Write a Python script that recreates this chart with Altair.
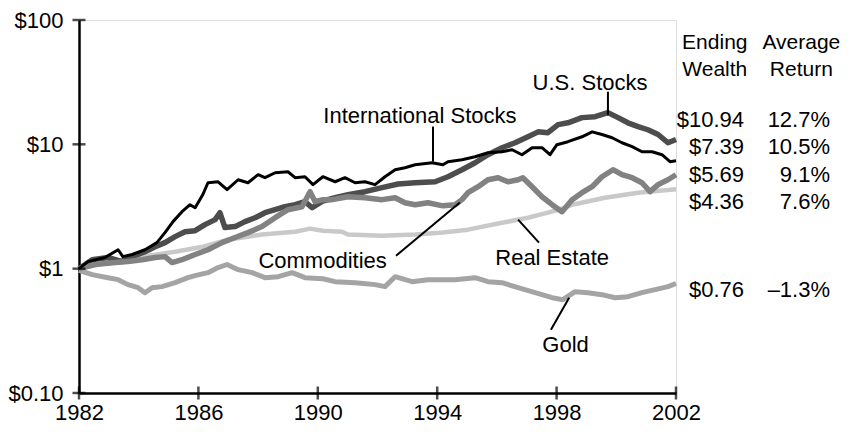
import altair as alt
import pandas as pd

# ---------------- data (growth of $1, log scale) ----------------
intl_years = [1982.0, 1982.30, 1982.87, 1983.31, 1983.47, 1983.78, 1984.21, 1984.61, 1984.88, 1985.15,
              1985.45, 1985.72, 1985.89, 1986.15, 1986.32, 1986.66, 1986.96, 1987.33, 1987.66, 1988.00,
              1988.23, 1988.57, 1989.00, 1989.24, 1989.57, 1989.84, 1990.17, 1990.58, 1990.91, 1991.25,
              1991.58, 1991.92, 1992.25, 1992.59, 1992.92, 1993.26, 1993.83, 1994.19, 1994.36, 1994.83,
              1995.27, 1995.70, 1996.17, 1996.51, 1996.84, 1997.18, 1997.51, 1997.78, 1998.01, 1998.38,
              1998.85, 1999.19, 1999.52, 1999.86, 2000.19, 2000.53, 2000.86, 2001.20, 2001.53, 2001.80, 2002.0]
intl_values = [1.00, 1.14, 1.23, 1.42, 1.25, 1.30, 1.42, 1.62, 1.95, 2.39,
               2.87, 3.27, 3.09, 3.95, 4.91, 5.00, 4.32, 5.19, 4.91, 5.70,
               5.39, 5.91, 6.02, 5.39, 5.49, 4.74, 5.49, 5.00, 5.39, 4.91,
               5.00, 4.74, 5.49, 6.25, 6.48, 6.85, 7.11, 6.85, 7.25, 7.52,
               7.95, 8.56, 8.72, 9.05, 8.25, 9.39, 9.39, 8.25, 9.93, 10.5,
               11.5, 12.6, 12.0, 11.3, 10.3, 9.58, 8.72, 8.72, 8.25, 7.25, 7.39]

us_years = [1982.0, 1982.44, 1982.97, 1983.44, 1983.78, 1984.21, 1984.55, 1984.88, 1985.22, 1985.55,
            1985.89, 1986.22, 1986.56, 1986.72, 1986.89, 1987.23, 1987.56, 1987.90, 1988.23, 1988.57,
            1988.90, 1989.24, 1989.57, 1989.81, 1990.17, 1990.58, 1991.01, 1991.58, 1992.15, 1992.69,
            1993.26, 1993.93, 1994.36, 1994.83, 1995.27, 1995.70, 1996.17, 1996.61, 1997.04, 1997.38,
            1997.71, 1998.05, 1998.38, 1998.85, 1999.29, 1999.72, 2000.06, 2000.39, 2000.73, 2001.06,
            2001.40, 2001.73, 2002.0]
us_values = [1.00, 1.18, 1.23, 1.14, 1.25, 1.37, 1.50, 1.62, 1.81, 1.98,
             2.02, 2.26, 2.48, 2.82, 2.14, 2.18, 2.39, 2.57, 2.82, 2.98,
             3.15, 3.27, 3.46, 3.09, 3.50, 3.72, 3.93, 4.16, 4.48, 4.80,
             4.90, 5.00, 5.49, 6.25, 7.11, 8.25, 9.39, 10.3, 11.5, 12.6,
             12.4, 14.4, 14.9, 16.4, 16.7, 18.0, 16.4, 14.9, 13.9, 13.1,
             12.0, 10.3, 10.94]

com_years = [1982.0, 1982.54, 1983.21, 1983.64, 1984.11, 1984.55, 1984.88, 1985.12, 1985.45, 1985.89,
             1986.32, 1986.79, 1987.23, 1987.66, 1988.13, 1988.57, 1989.00, 1989.47, 1989.74, 1989.91,
             1990.17, 1990.48, 1991.01, 1991.58, 1992.15, 1992.59, 1992.92, 1993.26, 1993.69, 1994.19,
             1994.60, 1994.83, 1995.03, 1995.37, 1995.70, 1996.04, 1996.37, 1996.71, 1996.87, 1997.18,
             1997.51, 1997.85, 1998.18, 1998.52, 1998.85, 1999.19, 1999.52, 1999.89, 2000.19, 2000.53,
             2000.86, 2001.13, 2001.40, 2001.73, 2002.0]
com_values = [1.00, 1.08, 1.12, 1.14, 1.18, 1.23, 1.25, 1.12, 1.18, 1.30,
              1.42, 1.62, 1.78, 1.95, 2.18, 2.57, 2.98, 3.15, 4.16, 3.46,
              3.59, 3.59, 3.79, 3.72, 3.59, 3.72, 3.39, 3.27, 3.39, 3.20,
              3.27, 3.59, 4.08, 4.56, 5.19, 5.39, 5.00, 5.19, 5.39, 4.56,
              3.79, 3.27, 2.87, 3.59, 4.08, 4.56, 5.49, 6.25, 5.70, 5.39,
              4.91, 4.16, 4.74, 5.19, 5.69]

re_years = [1982.0, 1982.97, 1984.11, 1985.22, 1986.15, 1986.99, 1988.13, 1989.24, 1989.74, 1990.17,
            1990.81, 1991.01, 1992.15, 1993.26, 1994.19, 1995.03, 1996.17, 1997.04, 1997.71, 1998.28,
            1998.52, 1999.62, 2000.73, 2002.0]
re_values = [1.00, 1.12, 1.25, 1.37, 1.50, 1.71, 1.88, 1.98, 2.10, 2.02,
             1.98, 1.88, 1.84, 1.88, 1.95, 2.06, 2.34, 2.57, 2.82, 3.09,
             3.27, 3.72, 4.08, 4.36]

gold_years = [1982.0, 1982.44, 1982.97, 1983.31, 1983.64, 1983.98, 1984.21, 1984.45, 1984.78, 1985.22,
              1985.65, 1985.89, 1986.32, 1986.66, 1986.96, 1987.33, 1987.80, 1988.23, 1988.67, 1989.14,
              1989.57, 1990.17, 1990.58, 1991.25, 1991.92, 1992.25, 1992.59, 1993.16, 1993.69, 1994.19,
              1994.60, 1995.27, 1995.70, 1996.17, 1996.71, 1997.28, 1997.85, 1998.21, 1998.62, 1999.05,
              1999.52, 1999.96, 2000.39, 2000.86, 2001.30, 2001.73, 2002.0]
gold_values = [0.97, 0.895, 0.846, 0.816, 0.744, 0.703, 0.641, 0.703, 0.717, 0.772,
               0.846, 0.88, 0.929, 1.02, 1.08, 0.982, 0.929, 0.846, 0.862, 0.929,
               0.846, 0.83, 0.786, 0.772, 0.744, 0.717, 0.862, 0.786, 0.816, 0.816,
               0.816, 0.846, 0.786, 0.772, 0.703, 0.641, 0.584, 0.563, 0.653, 0.641,
               0.618, 0.584, 0.595, 0.641, 0.678, 0.717, 0.76]

# axis ticks
x_ticks = [1982, 1986, 1990, 1994, 1998, 2002]
y_ticks = [0.1, 1, 10, 100]
y_tick_labels = ["$0.10", "$1", "$10", "$100"]

# series labels with leader lines
label_names = ["U.S. Stocks", "International Stocks", "Commodities", "Real Estate", "Gold"]
label_years = [1999.12, 1993.42, 1990.16, 1997.85, 1998.30]
label_values = [31.4, 17.0, 1.16, 1.226, 0.2446]
leader_year1 = [1999.72, 1993.86, 1992.62, 1996.71, 1997.81]
leader_year2 = [1999.72, 1993.86, 1994.76, 1997.41, 1998.42]
leader_val1 = [26.5, 13.9, 1.27, 2.48, 0.323]
leader_val2 = [17.3, 7.26, 3.40, 1.62, 0.584]

# right-hand table
ending_wealth = ["$10.94", "$7.39", "$5.69", "$4.36", "$0.76"]
average_return = ["12.7%", "10.5%", "9.1%", "7.6%", "\u20131.3%"]
table_row_values = [15.8, 9.58, 5.70, 3.46, 0.678]
table_wealth_year = 2004.28
table_return_year = 2007.16
header_lines_wealth = ["Ending", "Wealth"]
header_lines_return = ["Average", "Return"]
header_row_values = [65.8, 39.9]
header_wealth_year = 2003.30
header_return_year = 2006.20

FONT = "Liberation Sans"
FS = 22
FS_HEAD = 21

x_scale = alt.Scale(domain=[1982, 2002], nice=False, zero=False)
y_scale = alt.Scale(type="log", domain=[0.1, 100], nice=False)

label_expr = ""
for t, lab in zip(y_ticks, y_tick_labels):
    label_expr += f"datum.value < {t * 3} ? '{lab}' : "
label_expr += "''"

x_axis = alt.Axis(values=x_ticks, format="d", labelFont=FONT, labelFontSize=FS, labelColor="black",
                  domainColor="black", domainWidth=2.5, ticks=False, grid=False, title=None,
                  labelPadding=9, labelFlush=False, labelOverlap=False)
y_axis = alt.Axis(values=y_ticks, labelExpr=label_expr, labelFont=FONT, labelFontSize=FS,
                  labelColor="black", domainColor="black", domainWidth=2.5, ticks=False, grid=False,
                  title=None, labelPadding=16, labelOverlap=False)

def X(field="year"):
    return alt.X(f"{field}:Q", scale=x_scale, axis=x_axis)

def Y(field="wealth"):
    return alt.Y(f"{field}:Q", scale=y_scale, axis=y_axis)

series = [
    ("Real Estate", re_years, re_values, "#c9c9c9", 4.5),
    ("Gold", gold_years, gold_values, "#a4a4a4", 5),
    ("U.S. Stocks", us_years, us_values, "#4d4d4d", 5.5),
    ("Commodities", com_years, com_values, "#828282", 5.5),
    ("International Stocks", intl_years, intl_values, "#000000", 3),
]

layers = []
for name, yrs, vals, color, width in series:
    df = pd.DataFrame({"year": yrs, "wealth": vals, "series": name})
    layers.append(
        alt.Chart(df).mark_line(color=color, strokeWidth=width, strokeJoin="round", clip=False)
        .encode(x=X(), y=Y())
    )

# crossing axis ticks
ytick_df = pd.DataFrame({"year": [x_ticks[0]] * len(y_ticks), "wealth": y_ticks})
xtick_df = pd.DataFrame({"year": x_ticks, "wealth": [y_ticks[0]] * len(x_ticks)})
layers.append(alt.Chart(ytick_df).mark_tick(orient="horizontal", size=13, thickness=2.5, color="black")
              .encode(x=X(), y=Y()))
layers.append(alt.Chart(xtick_df).mark_tick(orient="vertical", size=13, thickness=2.5, color="black")
              .encode(x=X(), y=Y()))

# leader lines
lead_df = pd.DataFrame({"year": leader_year1, "year2": leader_year2,
                        "wealth": leader_val1, "wealth2": leader_val2})
layers.append(alt.Chart(lead_df).mark_rule(color="black", strokeWidth=2)
              .encode(x=X(), x2="year2:Q", y=Y(), y2="wealth2:Q"))

# series labels
lab_df = pd.DataFrame({"year": label_years, "wealth": label_values, "text": label_names})
layers.append(alt.Chart(lab_df).mark_text(font=FONT, fontSize=FS, color="black", align="center",
                                          baseline="middle")
              .encode(x=X(), y=Y(), text="text:N"))

# table
tw_df = pd.DataFrame({"year": [table_wealth_year] * len(ending_wealth), "wealth": table_row_values,
                      "text": ending_wealth})
tr_df = pd.DataFrame({"year": [table_return_year] * len(average_return), "wealth": table_row_values,
                      "text": average_return})
hw_df = pd.DataFrame({"year": [header_wealth_year] * 2, "wealth": header_row_values,
                      "text": header_lines_wealth})
hr_df = pd.DataFrame({"year": [header_return_year] * 2, "wealth": header_row_values,
                      "text": header_lines_return})
for d, al, fs in [(tw_df, "right", FS), (tr_df, "right", FS), (hw_df, "center", FS_HEAD),
                  (hr_df, "center", FS_HEAD)]:
    layers.append(alt.Chart(d).mark_text(font=FONT, fontSize=fs, color="black", align=al,
                                         baseline="middle")
                  .encode(x=X(), y=Y(), text="text:N"))

chart = (
    alt.layer(*layers)
    .properties(width=597, height=373, autosize="none",
                padding={"left": 71, "top": 12, "right": 164, "bottom": 34})
    .configure_view(stroke=None)
    .configure(background="white")
)

chart.save("out.html", embed_options={"renderer": "svg", "actions": False})
